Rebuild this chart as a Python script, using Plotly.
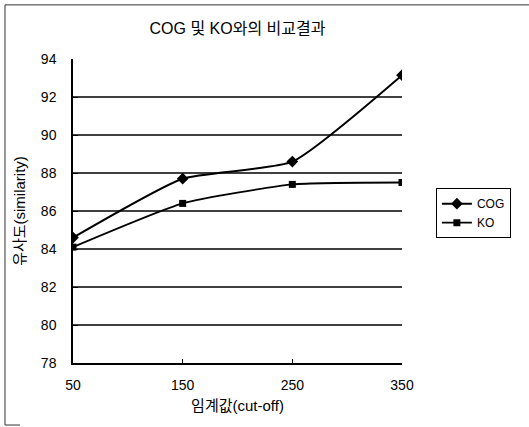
import plotly.graph_objects as go

cutoffs = [50, 150, 250, 350]
cog = [84.6, 87.7, 88.6, 93.15]
ko = [84.1, 86.4, 87.4, 87.5]
x_ticks = [50, 150, 250, 350]
y_ticks = [78, 80, 82, 84, 86, 88, 90, 92, 94]
grid_values = [80, 82, 84, 86, 88, 90, 92]

FONT = "Liberation Sans, Noto Sans CJK KR, sans-serif"

fig = go.Figure()
fig.add_trace(go.Scatter(
    x=cutoffs, y=cog, name="COG", mode="lines+markers",
    line=dict(color="black", width=2, shape="spline", smoothing=0.5),
    marker=dict(symbol="diamond", size=9, color="black"),
))
fig.add_trace(go.Scatter(
    x=cutoffs, y=ko, name="KO", mode="lines+markers",
    line=dict(color="black", width=1.8, shape="spline", smoothing=0.5),
    marker=dict(symbol="square", size=7, color="black"),
))

shapes = []
for g in grid_values:
    shapes.append(dict(type="line", xref="x", yref="y", x0=cutoffs[0], x1=cutoffs[-1],
                       y0=g, y1=g, line=dict(color="black", width=1.3), layer="below"))
# outer chart border (left, top, short bottom stub)
LX, TY, BY = -0.2067, 1.178, -0.204
shapes.append(dict(type="line", xref="paper", yref="paper", x0=LX, x1=LX,
                   y0=BY, y1=TY, line=dict(color="#333", width=1)))
shapes.append(dict(type="line", xref="paper", yref="paper", x0=LX, x1=1.5,
                   y0=TY, y1=TY, line=dict(color="#333", width=1)))
shapes.append(dict(type="line", xref="paper", yref="paper", x0=LX, x1=-0.161,
                   y0=BY, y1=BY, line=dict(color="#333", width=1)))

fig.update_layout(
    width=529, height=427,
    margin=dict(l=73, r=127, t=59, b=64),
    paper_bgcolor="white", plot_bgcolor="white",
    font=dict(family=FONT, size=14, color="black"),
    title=dict(text="COG 및 KO와의 비교결과", x=0.5, xref="paper", xanchor="center",
               y=1 - 28 / 427, yanchor="middle", font=dict(size=16, family=FONT)),
    shapes=shapes,
    showlegend=True,
    legend=dict(x=1.103, y=0.575, xanchor="left", yanchor="top",
                bordercolor="black", borderwidth=1, bgcolor="white",
                font=dict(size=12, family=FONT), itemwidth=30,
                tracegroupgap=0),
    xaxis=dict(range=[50, 350], tickvals=x_ticks, ticktext=[str(v) for v in x_ticks],
               showgrid=False, zeroline=False, showline=True, linecolor="black", linewidth=1.5,
               ticks="inside", ticklen=4, tickcolor="black", ticklabelstandoff=8,
               tickfont=dict(size=14),
               title=dict(text="임계값(cut-off)", standoff=9, font=dict(size=15))),
    yaxis=dict(range=[78, 94], tickvals=y_ticks, ticktext=[str(v) for v in y_ticks],
               showgrid=False, zeroline=False, showline=True, linecolor="black", linewidth=1.5,
               ticks="inside", ticklen=5, tickcolor="black", ticklabelstandoff=12,
               tickfont=dict(size=14),
               title=dict(text="유사도(similarity)", standoff=12, font=dict(size=15))),
)

fig.write_html("out.html")
